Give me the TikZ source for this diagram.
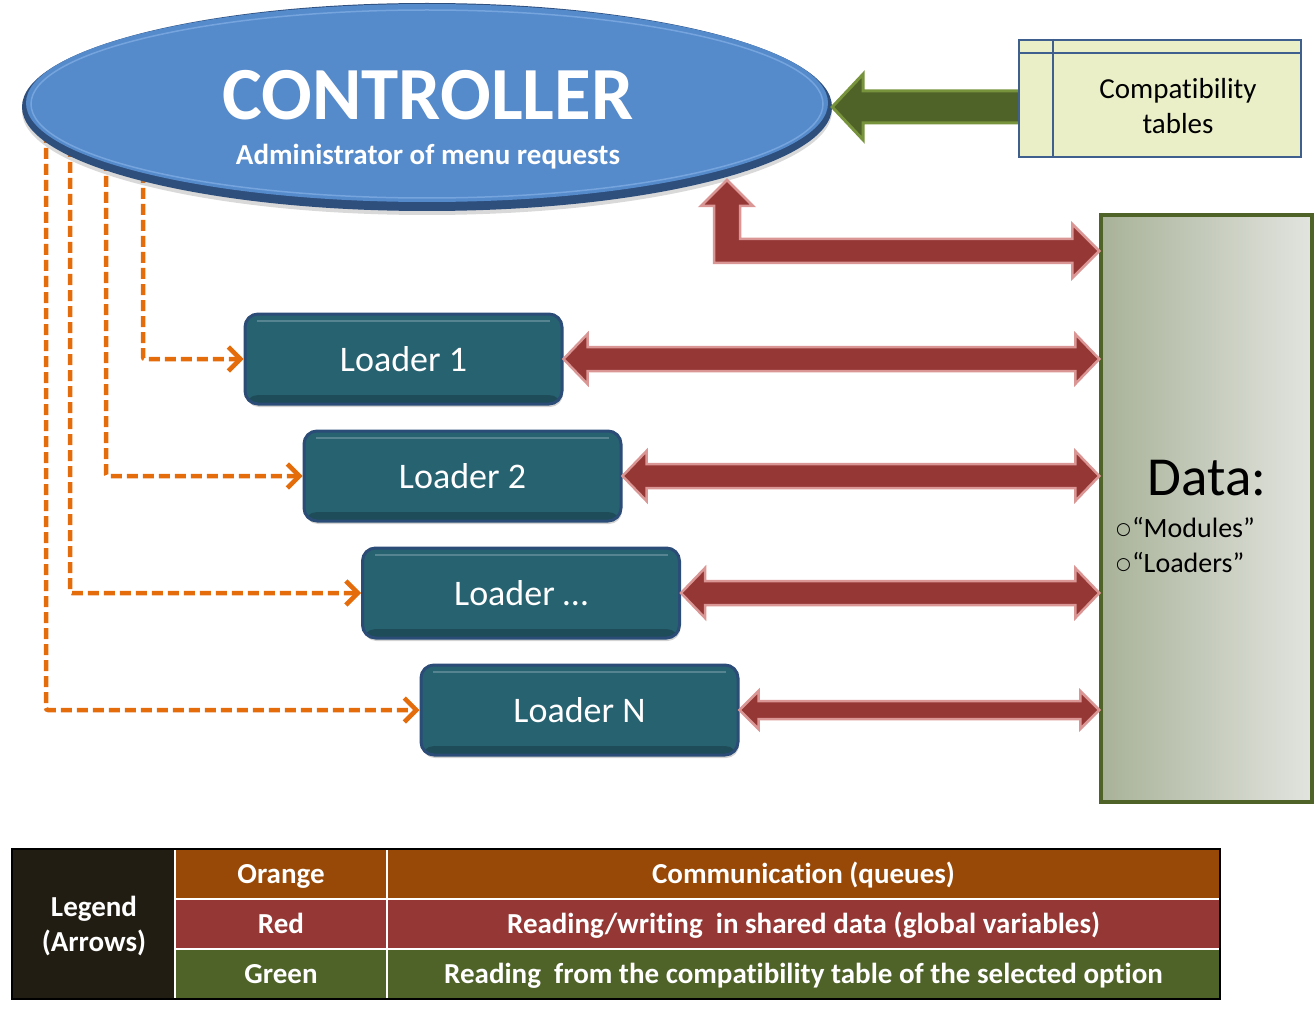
\documentclass[tikz,border=0pt]{standalone}
\usepackage{fontspec}
\setmainfont{Carlito}[Ligatures=NoCommon]
\newfontfamily\symfont{DejaVu Sans}
\usetikzlibrary{arrows.meta,calc,shapes.geometric,shadows}

\definecolor{ctrlblue}{HTML}{558ACB}
\definecolor{ctrlrim}{HTML}{2E4E7C}
\definecolor{ctrlhi}{HTML}{8CB6EA}
\definecolor{ldfill}{HTML}{276271}
\definecolor{ldrim}{HTML}{2A4C76}
\definecolor{ldhi}{HTML}{4F8A98}
\definecolor{redfill}{HTML}{953735}
\definecolor{redline}{HTML}{D99694}
\definecolor{grnfill}{HTML}{4F6228}
\definecolor{grnline}{HTML}{77933C}
\definecolor{orng}{HTML}{E46C0A}
\definecolor{compfill}{HTML}{EBEFC8}
\definecolor{compline}{HTML}{3F5F8F}
\definecolor{dataL}{HTML}{A8B298}
\definecolor{dataR}{HTML}{E2E4DF}
\definecolor{dataline}{HTML}{4F6228}
\definecolor{legdark}{HTML}{211D12}
\definecolor{legorange}{HTML}{984807}
\definecolor{legred}{HTML}{953735}
\definecolor{leggreen}{HTML}{4F6228}

\tikzset{
  loader/.style={rectangle, rounded corners=13pt, minimum width=317pt, minimum height=90pt,
    fill=ldfill, draw=ldrim, line width=3pt, text=white, inner sep=0pt,
    font=\fontsize{36}{40}\selectfont,
    drop shadow={shadow xshift=1pt, shadow yshift=-3pt, opacity=.35},
    path picture={
      \fill[black, opacity=.22] (path picture bounding box.south west) rectangle
           ([yshift=9pt]path picture bounding box.south east);
      \draw[white, opacity=.22, line width=2.5pt]
           ([xshift=12pt,yshift=-7pt]path picture bounding box.north west) --
           ([xshift=-12pt,yshift=-7pt]path picture bounding box.north east);
    }},
  queue/.style={draw=orng, line width=4.5pt, dash pattern=on 11pt off 5pt, rounded corners=2pt,
    -{Straight Barb[length=12pt,width=24pt]}},
  redarr/.style={fill=redfill, draw=redline, line width=2.5pt, line join=miter},
  grnarr/.style={fill=grnfill, draw=grnline, line width=3pt, line join=miter},
  legcell/.style={rectangle, minimum height=50pt, inner sep=0pt},
  legtext/.style={text=white, font=\bfseries\fontsize{29}{31}\selectfont, anchor=base},
  bulletline/.style={anchor=base west, inner sep=0pt, font=\fontsize{28}{30}\selectfont},
}

% double red arrow between two points on the same height
\newcommand\redbi[5]{%
  \draw[redarr] let \p1=#1, \p2=#2 in
    (\x1,\y1) -- (\x1+#5pt,\y1+#4pt) -- (\x1+#5pt,\y1+#3pt) -- (\x2-#5pt,\y1+#3pt)
    -- (\x2-#5pt,\y1+#4pt) -- (\x2,\y1) -- (\x2-#5pt,\y1-#4pt) -- (\x2-#5pt,\y1-#3pt)
    -- (\x1+#5pt,\y1-#3pt) -- (\x1+#5pt,\y1-#4pt) -- cycle;}
\newcommand\subbullet{\raisebox{2.5pt}{\symfont\fontsize{17}{20}\selectfont ○}\kern1pt}

\begin{document}
\begin{tikzpicture}[x=1pt,y=-1pt]
\useasboundingbox (0,0) rectangle (1315,1011);

% ---------- loaders ----------
\node[loader] (l1) at (403.5,359) {Loader 1};
\node[loader] (l2) at (462.5,476) {Loader 2};
\node[loader] (l3) at (521,593) {Loader …};
\node[loader] (l4) at (579.5,710) {Loader N};

% ---------- orange queue connectors ----------
\coordinate (q1) at (143,172);
\coordinate (q2) at (106,160);
\coordinate (q3) at (70,146);
\coordinate (q4) at (46,132);
\draw[queue] (q1) |- (l1.west);
\draw[queue] (q2) |- (l2.west);
\draw[queue] (q3) |- (l3.west);
\draw[queue] (q4) |- (l4.west);

% ---------- controller ----------
\node[ellipse, minimum width=810pt, minimum height=208pt, fill=ctrlrim, inner sep=0pt,
      drop shadow={shadow xshift=0pt, shadow yshift=-4pt, opacity=.3}] (ctrl) at (427,107) {};
\fill[ctrlblue] (427,103) ellipse [x radius=401, y radius=99];
\draw[ctrlhi, line width=1.5pt, opacity=.6] (427,104) ellipse [x radius=396, y radius=94];
\node[anchor=base, text=white, font=\bfseries\fontsize{75}{80}\selectfont] (ctitle) at (428,120) {CONTROLLER};
\node[anchor=base, text=white, font=\bfseries\fontsize{29}{32}\selectfont] (csub) at (428,165) {Administrator of menu requests};

% ---------- data store ----------
\node[rectangle, minimum width=211pt, minimum height=587pt, left color=dataL, right color=dataR,
      draw=dataline, line width=3.5pt, inner sep=0pt] (data) at (1206.5,508.5) {};
\node[anchor=base, font=\fontsize{55}{60}\selectfont] (dtitle) at (1207,495) {Data:};
\node[bulletline] (dmod) at (1116,537) {\subbullet“Modules”};
\node[bulletline] (dload) at (1116,572) {\subbullet“Loaders”};

% ---------- compatibility tables ----------
\draw[grnarr] let \p1=(ctrl.east), \p2=($(1019,0)!(ctrl.east)!(1019,10)$) in
  (\x1,\y1) -- (\x1+31pt,\y1+33pt) -- (\x1+31pt,\y1+16pt) -- (\x2+2pt,\y1+16pt)
  -- (\x2+2pt,\y1-16pt) -- (\x1+31pt,\y1-16pt) -- (\x1+31pt,\y1-33pt) -- cycle;
\node[rectangle, minimum width=282pt, minimum height=117pt, fill=compfill, draw=compline,
      line width=2pt, inner sep=0pt] (comp) at (1160,98.5) {};
\draw[compline, line width=1.5pt] ($(comp.north west)+(35,0)$) -- ($(comp.south west)+(35,0)$);
\draw[compline, line width=1.5pt] ($(comp.north west)+(0,14)$) -- ($(comp.north east)+(0,14)$);
\node[anchor=base, font=\fontsize{29}{32}\selectfont] (ct1) at (1178,99) {Compatibility};
\node[anchor=base, font=\fontsize{29}{32}\selectfont] (ct2) at (1178,134) {tables};

% ---------- red read/write arrows ----------
\coordinate (rt1) at (727,180);
\coordinate (rt2) at (data.west |- 0,251);
\draw[redarr] let \p1=(rt1), \p2=(rt2) in
  (\x1,\y1) -- (\x1+26pt,\y1-26pt) -- (\x1+13pt,\y1-26pt) -- (\x1+13pt,\y2+12pt)
  -- (\x2-27pt,\y2+12pt) -- (\x2-27pt,\y2+27pt) -- (\x2,\y2) -- (\x2-27pt,\y2-27pt)
  -- (\x2-27pt,\y2-12pt) -- (\x1-13pt,\y2-12pt) -- (\x1-13pt,\y1-26pt) -- (\x1-26pt,\y1-26pt) -- cycle;
\redbi{(l1.east)}{(data.west |- l1.east)}{12}{25}{24}
\redbi{(l2.east)}{(data.west |- l2.east)}{12}{25}{24}
\redbi{(l3.east)}{(data.west |- l3.east)}{12}{25}{24}
\redbi{(l4.east)}{(data.west |- l4.east)}{9}{19}{19}

% ---------- legend ----------
\node[legcell, fill=legdark, minimum width=163pt, minimum height=150pt] (lg) at (93.5,924) {};
\node[legcell, fill=legorange, minimum width=212pt] (lgo1) at (281,874) {};
\node[legcell, fill=legorange, minimum width=833pt] (lgo2) at (803.5,874) {};
\node[legcell, fill=legred, minimum width=212pt] (lgr1) at (281,924) {};
\node[legcell, fill=legred, minimum width=833pt] (lgr2) at (803.5,924) {};
\node[legcell, fill=leggreen, minimum width=212pt] (lgg1) at (281,974) {};
\node[legcell, fill=leggreen, minimum width=833pt] (lgg2) at (803.5,974) {};
\draw[white, line width=2pt] (lgo1.south west) -- (lgo2.south east);
\draw[white, line width=2pt] (lgr1.south west) -- (lgr2.south east);
\draw[white, line width=2pt] (lgo1.north west) -- (lgg1.south west);
\draw[white, line width=2pt] (lgo2.north west) -- (lgg2.south west);
\draw[black, line width=2.5pt] (lg.north west) rectangle (lgg2.south east);
\node[legtext] (lgt1) at (94,916) {Legend};
\node[legtext] (lgt2) at (94,951) {(Arrows)};
\node[legtext] (lgt3) at (281,883) {Orange};
\node[legtext] (lgt4) at (803.5,883) {Communication (queues)};
\node[legtext] (lgt5) at (281,933) {Red};
\node[legtext] (lgt6) at (803.5,933) {Reading/writing\ \ in shared data (global variables)};
\node[legtext] (lgt7) at (281,983) {Green};
\node[legtext] (lgt8) at (803.5,983) {Reading\ \ from the compatibility table of the selected option};
\end{tikzpicture}
\end{document}
